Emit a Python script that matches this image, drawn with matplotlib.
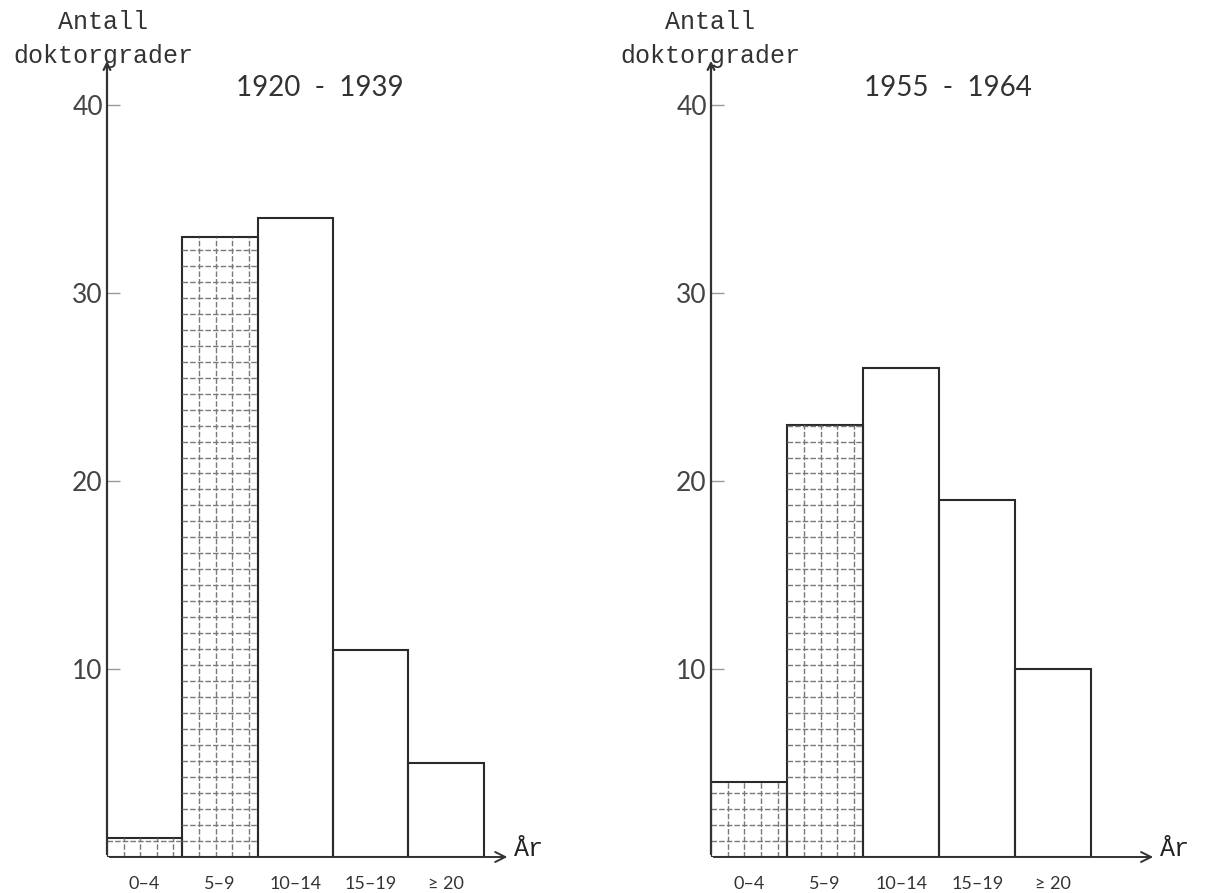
import numpy as np
import matplotlib.pyplot as plt

# age groups (years until doctorate) and counts, two periods
groups = ['0–4', '5–9', '10–14', '15–19', '≥ 20']
counts_1920 = [1, 33, 34, 11, 5]
counts_1955 = [4, 23, 26, 19, 10]
hatched_1920 = [True, True, False, False, False]
hatched_1955 = [True, True, False, False, False]
yticks = [10, 20, 30, 40]

W, H = 1219, 893
fig = plt.figure(figsize=(W / 100, H / 100), dpi=100)

mono = 'Liberation Mono'
sans = 'Lato'
grid_col = '#7a7a7a'


def grid_fill(ax, x0, height):
    # hand drawn looking square grid inside a bar
    for k in np.arange(0.22, 1.0, 0.22):
        ax.plot([x0 + k, x0 + k], [0, height], color=grid_col, lw=1.0,
                ls=(0, (4, 1.5)))
    for yy in np.arange(0.85, height, 0.85):
        ax.plot([x0, x0 + 1], [yy, yy], color=grid_col, lw=1.0,
                ls=(0, (4, 1.5)))


def draw_panel(rect, counts, hatched, title, xmax, title_x):
    ax = fig.add_axes(rect)
    x = np.arange(len(counts))
    for xi, c, h in zip(x, counts, hatched):
        if h:
            grid_fill(ax, xi, c)
    ax.bar(x, counts, width=1.0, align='edge', fill=False,
           edgecolor='#2a2a2a', linewidth=1.5)

    ax.set_xlim(0, xmax)
    ax.set_ylim(0, 42.5)
    for s in ax.spines.values():
        s.set_visible(False)

    # axis lines with arrows
    ax.annotate('', xy=(xmax - 0.25, 0), xytext=(0, 0),
                arrowprops=dict(arrowstyle='->', color='#333333', lw=1.4,
                                mutation_scale=18),
                annotation_clip=False)
    ax.annotate('', xy=(0, 42.5), xytext=(0, 0),
                arrowprops=dict(arrowstyle='->', color='#333333', lw=1.6,
                                mutation_scale=12),
                annotation_clip=False)
    ax.text(xmax - 0.2, 0.4, 'År', fontfamily=mono, fontsize=18,
            ha='left', va='center', color='#222222')

    ax.set_yticks(yticks)
    ax.set_yticklabels([str(t) for t in yticks], fontfamily=sans,
                       fontsize=19, color='#444444')
    ax.tick_params(axis='y', direction='in', length=9, width=1.0,
                   color='#999999', pad=3)
    ax.set_xticks(x + 0.5)
    ax.set_xticklabels(groups, fontfamily=sans, fontsize=13, color='#333333')
    ax.tick_params(axis='x', length=0, pad=14)

    ax.text(title_x, 40.9, title, fontfamily=sans,
            fontsize=20, ha='center', va='center', color='#333333')
    return ax


draw_panel([107 / W, 36 / H, 422 / W, 799 / H], counts_1920, hatched_1920,
           '1920  -  1939', 5.6, 2.82)
draw_panel([711 / W, 36 / H, 464 / W, 799 / H], counts_1955, hatched_1955,
           '1955  -  1964', 6.1, 3.12)

for cx in (103, 710):
    fig.text(cx / W, 1 - 22 / H, 'Antall', fontfamily=mono, fontsize=18,
             ha='center', va='center', color='#333333')
    fig.text(cx / W, 1 - 56 / H, 'doktorgrader', fontfamily=mono,
             fontsize=18, ha='center', va='center', color='#333333')

fig.savefig('out.png', dpi=100, facecolor='white')
